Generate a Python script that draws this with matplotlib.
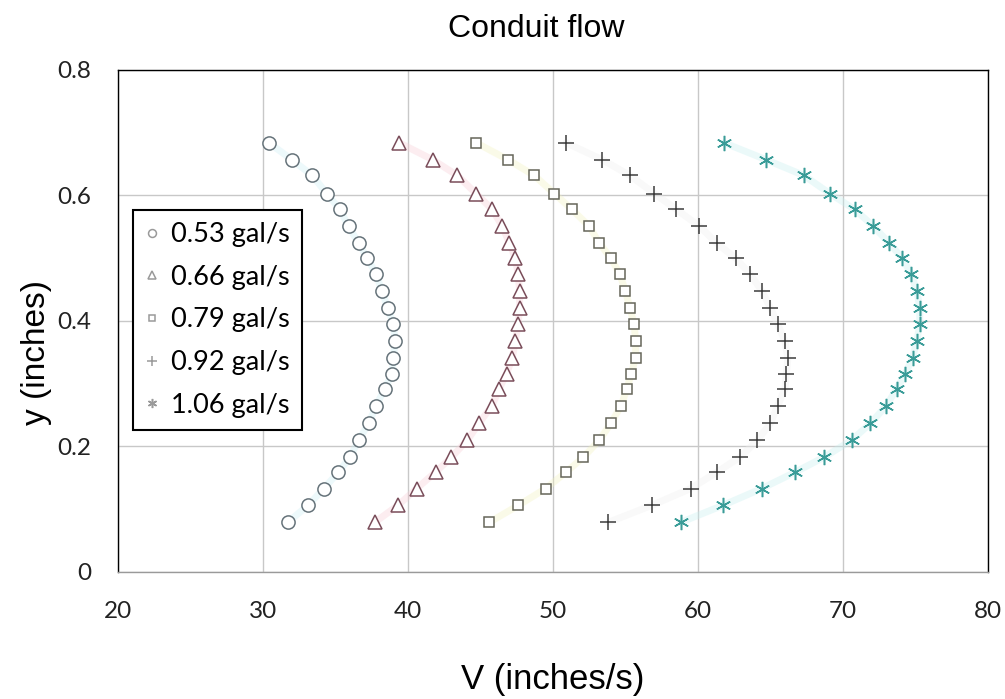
import matplotlib
matplotlib.use("Agg")
import numpy as np
from matplotlib import pyplot as plt

# y positions (inches) shared by all five traverses
y = [0.684, 0.657, 0.632, 0.603, 0.578, 0.551, 0.524, 0.500, 0.475, 0.448,
     0.421, 0.395, 0.368, 0.341, 0.316, 0.292, 0.265, 0.237, 0.210, 0.183,
     0.159, 0.133, 0.106, 0.079]

v_053 = [30.4, 32.0, 33.4, 34.4, 35.3, 35.9, 36.6, 37.2, 37.8, 38.2,
         38.6, 39.0, 39.1, 39.0, 38.9, 38.4, 37.8, 37.3, 36.6, 36.0,
         35.2, 34.2, 33.1, 31.7]
v_066 = [39.4, 41.7, 43.4, 44.7, 45.8, 46.5, 47.0, 47.4, 47.6, 47.7,
         47.7, 47.6, 47.4, 47.2, 46.8, 46.3, 45.8, 44.9, 44.1, 43.0,
         41.9, 40.6, 39.3, 37.7]
v_079 = [44.7, 46.9, 48.7, 50.1, 51.3, 52.5, 53.2, 54.0, 54.6, 55.0,
         55.3, 55.6, 55.7, 55.7, 55.4, 55.1, 54.7, 54.0, 53.2, 52.1,
         50.9, 49.5, 47.6, 45.6]
v_092 = [50.9, 53.4, 55.3, 57.0, 58.5, 60.1, 61.3, 62.6, 63.6, 64.4,
         65.0, 65.5, 66.0, 66.2, 66.1, 66.0, 65.5, 65.0, 64.1, 62.9,
         61.3, 59.5, 56.8, 53.8]
v_106 = [61.8, 64.7, 67.3, 69.1, 70.8, 72.1, 73.2, 74.1, 74.7, 75.1,
         75.3, 75.3, 75.1, 74.8, 74.3, 73.7, 73.0, 71.9, 70.6, 68.7,
         66.7, 64.4, 61.7, 58.8]

labels = ["0.53 gal/s", "0.66 gal/s", "0.79 gal/s", "0.92 gal/s", "1.06 gal/s"]
series = [v_053, v_066, v_079, v_092, v_106]

styles = [
    dict(marker="o", ms=9.5, mec="#66737a", glow="#cdeef5"),
    dict(marker="^", ms=10, mec="#7a4d5a", glow="#f7ccd6"),
    dict(marker="s", ms=6.5, mec="#66665a", glow="#f3f3bf"),
    dict(marker="+", ms=11, mec="#3c3c3c", glow="#eeeeee"),
    dict(marker=(6, 2, 0), ms=11, mec="#3a9c98", glow="#c6f0f0"),
]

fig = plt.figure(figsize=(10.05, 6.99), dpi=100)
ax = fig.add_axes([0.1174, 0.1817, 0.8656, 0.7182])

handles = []
for v, lab, st in zip(series, labels, styles):
    # faint coloured halo along each profile
    ax.plot(v, y, color=st["glow"], lw=5, alpha=0.35, zorder=2,
            solid_capstyle="round")
    h, = ax.plot(v, y, ls="none", marker=st["marker"], ms=st["ms"],
                 mfc="white", mec=st["mec"], mew=1.1, label=lab, zorder=3)
    handles.append(h)

ax.set_xlim(20, 80)
ax.set_ylim(0, 0.8)
ax.set_xticks([20, 30, 40, 50, 60, 70, 80])
ax.set_yticks([0, 0.2, 0.4, 0.6, 0.8])
ax.set_yticklabels(["0", "0.2", "0.4", "0.6", "0.8"])
ax.grid(True, color="#c8c8c8", lw=1)
ax.set_axisbelow(True)
ax.tick_params(length=0, labelsize=17.5, labelcolor="#222222")
ax.tick_params(axis="x", pad=21)
ax.tick_params(axis="y", pad=19)
for lbl in ax.get_xticklabels() + ax.get_yticklabels():
    lbl.set_family("Lato")
for sp in ax.spines.values():
    sp.set_color("black")
    sp.set_linewidth(1)
ax.spines["bottom"].set_color("#9a9a9a")

fig.text(0.534, 0.958, "Conduit flow", fontsize=23, family="Liberation Sans",
         ha="center", va="center")
ax.set_xlabel("V (inches/s)", fontsize=25, family="Liberation Sans")
ax.xaxis.set_label_coords(0.5, -0.215)
ax.xaxis.label.set_va("center")
ax.set_ylabel("y (inches)", fontsize=24, family="Liberation Sans")
ax.yaxis.set_label_coords(-0.094, 0.438)
ax.yaxis.label.set_va("center")

leg = ax.legend(handles=handles, loc="upper left", bbox_to_anchor=(0.017, 0.721),
                prop={"family": "Lato", "size": 19.5}, frameon=True,
                fancybox=False, edgecolor="black", framealpha=1,
                markerscale=0.6, handlelength=0.5, handletextpad=0.45,
                labelspacing=0.65, borderpad=0.45, borderaxespad=0)
leg.get_frame().set_linewidth(1.5)
for lh in leg.legend_handles:
    lh.set_markeredgecolor("#9a9a9a")

fig.savefig("out.png", dpi=100)
